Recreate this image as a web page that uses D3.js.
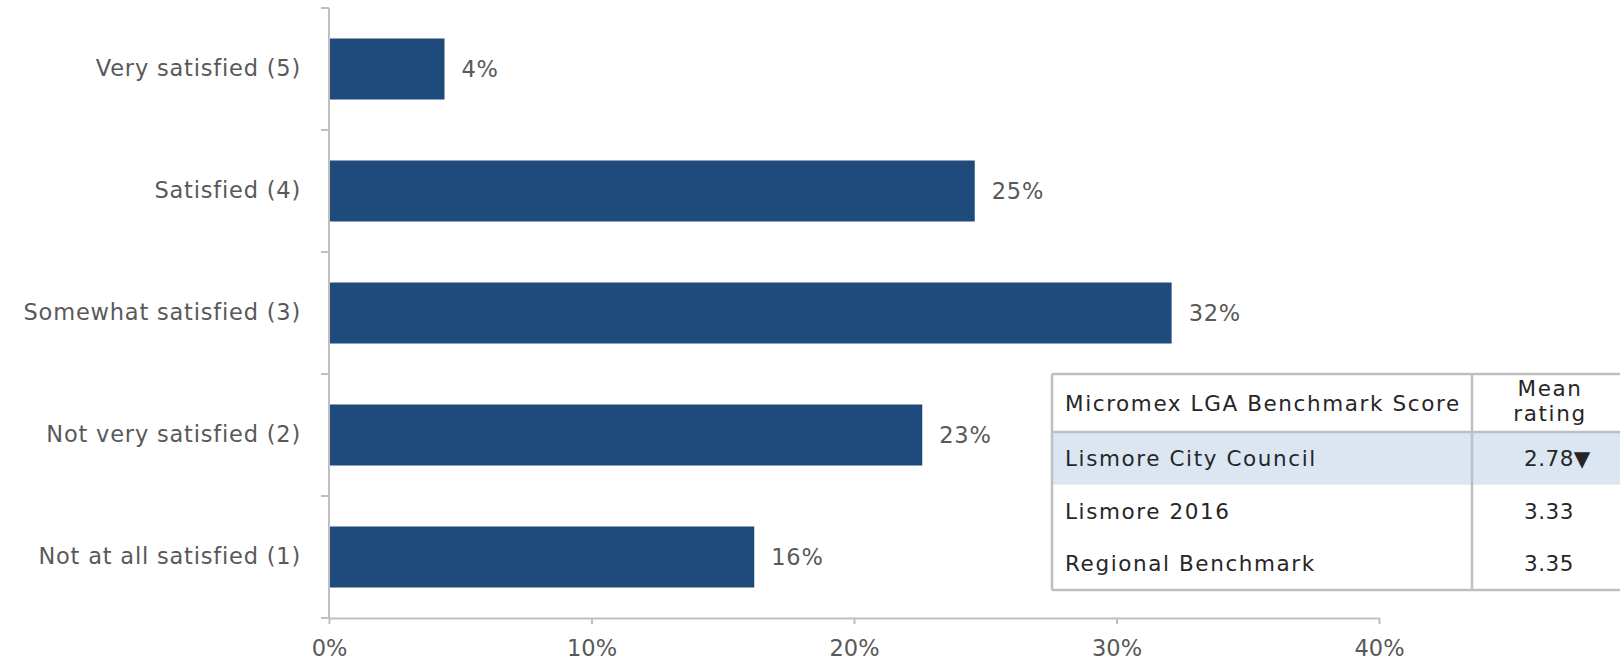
<!DOCTYPE html>
<html>
<head>
<meta charset="utf-8">
<script src="https://cdn.jsdelivr.net/npm/d3@7"></script>
<style>
  html, body { margin: 0; padding: 0; background: #fff; }
  svg { display: block; }
  text { font-family: "DejaVu Sans", sans-serif; }
</style>
</head>
<body>
<svg id="chart" width="1620" height="660"></svg>
<script>
// Satisfaction ratings (% of respondents)
const categories = [
  "Very satisfied (5)",
  "Satisfied (4)",
  "Somewhat satisfied (3)",
  "Not very satisfied (2)",
  "Not at all satisfied (1)"
];
const values = [4.4, 24.6, 32.1, 22.6, 16.2];
const xTicks = [0, 10, 20, 30, 40];

// Benchmark comparison table
const tableHeader = ["Micromex LGA Benchmark Score", "Mean rating"];
const benchmarkNames = ["Lismore City Council", "Lismore 2016", "Regional Benchmark"];
const meanRatings = [2.78, 3.33, 3.35];
const ratingMarks = ["\u25BC", "", ""];

const svg = d3.select("#chart");
const axisColor = "#bfbfbf";
const labelColor = "#595959";
const barColor = "#1f4a7c";
const chartFont = { size: "22.5px", spacing: "0.8px" };
const tableFont = { size: "21.5px", spacing: "1.6px" };

const x = d3.scaleLinear().domain([0, 40]).range([329, 1379]);
const y = d3.scaleBand().domain(categories).range([8, 618])
  .paddingInner(0.5).paddingOuter(0.25);

function chartText(sel) {
  sel.attr("fill", labelColor)
    .style("font-size", chartFont.size)
    .style("letter-spacing", chartFont.spacing);
}
function tableText(sel) {
  sel.attr("fill", "#262626")
    .style("font-size", tableFont.size)
    .style("letter-spacing", tableFont.spacing);
}

// Bars
svg.append("g").selectAll("rect")
  .data(values)
  .join("rect")
  .attr("x", x(0))
  .attr("y", (d, i) => y(categories[i]))
  .attr("width", d => x(d) - x(0))
  .attr("height", y.bandwidth())
  .attr("fill", barColor);

// Value labels
svg.append("g").selectAll("text")
  .data(values)
  .join("text")
  .attr("x", d => x(d) + 17)
  .attr("y", (d, i) => y(categories[i]) + y.bandwidth() / 2)
  .attr("dy", "0.35em")
  .call(chartText)
  .text(d => Math.round(d) + "%");

// Category axis: labels at band centres, ticks at band boundaries
const yAxis = svg.append("g")
  .attr("transform", `translate(${x(0)},0)`)
  .call(d3.axisLeft(y).tickSize(0).tickPadding(28));
yAxis.select(".domain").remove();
yAxis.selectAll("text").call(chartText);

const step = y.step();
const boundaries = d3.range(categories.length + 1).map(i => 8 + i * step);
svg.append("g").selectAll("line")
  .data(boundaries)
  .join("line")
  .attr("x1", x(0) - 8).attr("x2", x(0))
  .attr("y1", d => d).attr("y2", d => d)
  .attr("stroke", axisColor).attr("stroke-width", 2);
svg.append("line")
  .attr("x1", x(0)).attr("x2", x(0))
  .attr("y1", 8).attr("y2", 618)
  .attr("stroke", axisColor).attr("stroke-width", 2);

// Percentage axis
const xAxis = svg.append("g")
  .attr("transform", "translate(0,618)")
  .call(d3.axisBottom(x).tickValues(xTicks).tickFormat(d => d + "%")
    .tickSize(6).tickSizeOuter(0).tickPadding(16));
xAxis.select(".domain").attr("stroke", axisColor).attr("stroke-width", 2);
xAxis.selectAll(".tick line").attr("stroke", axisColor).attr("stroke-width", 2);
xAxis.selectAll("text").call(chartText).style("letter-spacing", "0px");

// Benchmark table
const tLeft = 1052, tRight = 1640, tDiv = 1472;
const tTop = 374, tHead = 432, tBottom = 590;
const rowY = d3.scaleBand().domain(benchmarkNames).range([tHead, tBottom]);
const table = svg.append("g");

table.append("rect")
  .attr("x", tLeft).attr("y", rowY(benchmarkNames[0]))
  .attr("width", tRight - tLeft).attr("height", rowY.bandwidth())
  .attr("fill", "#dce6f2");

const borders = [
  [tLeft, tTop, tRight, tTop],
  [tLeft, tHead, tRight, tHead],
  [tLeft, tBottom, tRight, tBottom],
  [tLeft, tTop, tLeft, tBottom],
  [tDiv, tTop, tDiv, tBottom]
];
table.selectAll("line")
  .data(borders)
  .join("line")
  .attr("x1", d => d[0]).attr("y1", d => d[1])
  .attr("x2", d => d[2]).attr("y2", d => d[3])
  .attr("stroke", axisColor).attr("stroke-width", 2.5);

table.append("text")
  .attr("x", tLeft + 13).attr("y", (tTop + tHead) / 2)
  .attr("dy", "0.35em")
  .call(tableText)
  .text(tableHeader[0]);

const headWords = tableHeader[1].split(" ");
table.append("text")
  .attr("text-anchor", "middle")
  .call(tableText)
  .selectAll("tspan")
  .data(headWords)
  .join("tspan")
  .attr("x", 1550)
  .attr("y", (d, i) => 396 + i * 25)
  .text(d => d);

table.append("g").selectAll("text")
  .data(benchmarkNames)
  .join("text")
  .attr("x", tLeft + 13)
  .attr("y", d => rowY(d) + rowY.bandwidth() / 2)
  .attr("dy", "0.35em")
  .call(tableText)
  .text(d => d);

table.append("g").selectAll("text")
  .data(meanRatings)
  .join("text")
  .attr("x", 1524)
  .attr("y", (d, i) => rowY(benchmarkNames[i]) + rowY.bandwidth() / 2)
  .attr("dy", "0.35em")
  .call(tableText)
  .style("letter-spacing", "0.5px")
  .text((d, i) => d.toFixed(2) + ratingMarks[i]);
</script>
</body>
</html>
